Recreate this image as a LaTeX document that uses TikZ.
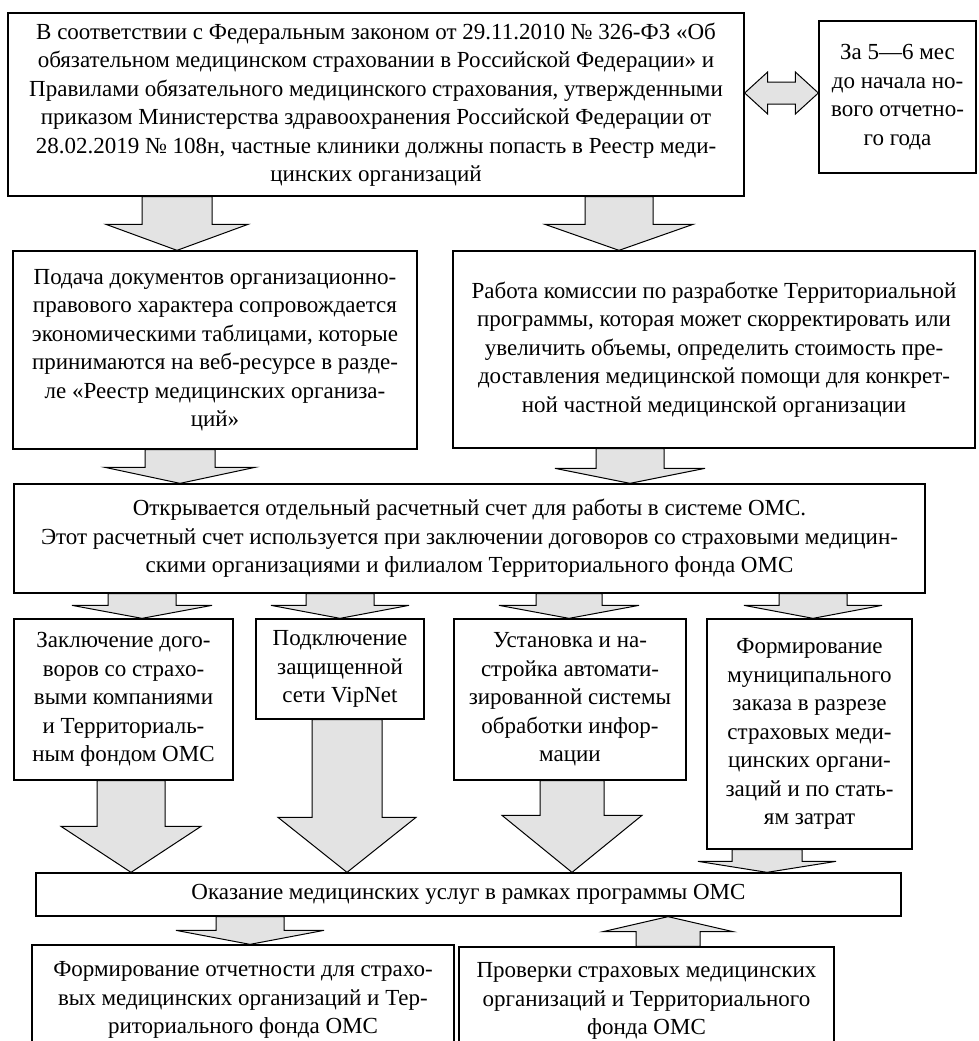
\documentclass[tikz,border=0pt]{standalone}
\usepackage{fontspec}
\setmainfont{Liberation Serif}
\usetikzlibrary{calc, backgrounds}
\tikzset{
	x=1pt, y=-1pt, % Coordenadas en puntos, el eje y hacia abajo
	caja/.style={draw, line width=1.3pt, align=center, inner sep=0pt,
		font=\fontsize{23}{28.5}\selectfont}, % Propiedades de los bloques
	flecha/.style={draw, line width=1pt, fill=gray!22, line join=miter} % Flechas gruesas grises
}
% Flecha hacia abajo: x, nodo de salida, nodo de llegada, semiancho del cuerpo, semiancho de la punta, largo de la punta
\newcommand{\flechaabajo}[6]{%
	\path[flecha] let \p1=(#1,0 |- #2.south), \p2=(#1,0 |- #3.north) in
		(\x1-#4,\y1) -- (\x1-#4,\y2+#6) -- (\x1-#5,\y2+#6) -- (\x2,\y2)
		-- (\x1+#5,\y2+#6) -- (\x1+#4,\y2+#6) -- (\x1+#4,\y1) -- cycle;}
% Flecha hacia arriba
\newcommand{\flechaarriba}[6]{%
	\path[flecha] let \p1=(#1,0 |- #2.north), \p2=(#1,0 |- #3.south) in
		(\x1-#4,\y1) -- (\x1-#4,\y2-#6) -- (\x1-#5,\y2-#6) -- (\x2,\y2)
		-- (\x1+#5,\y2-#6) -- (\x1+#4,\y2-#6) -- (\x1+#4,\y1) -- cycle;}
% Flecha doble horizontal: y, nodo izquierdo, nodo derecho, semialto del cuerpo, semialto de la punta, largo de la punta
\newcommand{\flechadoble}[6]{%
	\path[flecha] let \p1=(#2.east |- 0,#1), \p2=(#3.west |- 0,#1) in
		(\x1,\y1) -- (\x1+#6,\y1+#5) -- (\x1+#6,\y1+#4) -- (\x2-#6,\y1+#4)
		-- (\x2-#6,\y1+#5) -- (\x2,\y1) -- (\x2-#6,\y1-#5) -- (\x2-#6,\y1-#4)
		-- (\x1+#6,\y1-#4) -- (\x1+#6,\y1-#5) -- cycle;}

\begin{document}
\begin{tikzpicture}
			\useasboundingbox (0,0) rectangle (978,1041);
			\node[caja, minimum width=736pt, minimum height=183pt] (ley) at (376,104.5)
				{В соответствии с Федеральным законом от 29.11.2010 № 326-ФЗ «Об\\
				 обязательном медицинском страховании в Российской Федерации» и\\
				 Правилами обязательного медицинского страхования, утвержденными\\
				 приказом Министерства здравоохранения Российской Федерации от\\
				 28.02.2019 № 108н, частные клиники должны попасть в Реестр меди-\\
				 цинских организаций};
			\node[caja, minimum width=157pt, minimum height=152pt] (plazo) at (897.5,97)
				{За 5—6 мес\\ до начала но-\\ вого отчетно-\\ го года};
			\node[caja, minimum width=404pt, minimum height=198pt] (documentos) at (215,350)
				{Подача документов организационно-\\
				 правового характера сопровождается\\
				 экономическими таблицами, которые\\
				 принимаются на веб-ресурсе в разде-\\
				 ле «Реестр медицинских организа-\\
				 ций»};
			\node[caja, minimum width=522pt, minimum height=197pt] (comision) at (714,349.5)
				{Работа комиссии по разработке Территориальной\\
				 программы, которая может скорректировать или\\
				 увеличить объемы, определить стоимость пре-\\
				 доставления медицинской помощи для конкрет-\\
				 ной частной медицинской организации};
			\node[caja, minimum width=911pt, minimum height=109pt] (cuenta) at (469.5,538.5)
				{Открывается отдельный расчетный счет для работы в системе ОМС.\\
				 Этот расчетный счет используется при заключении договоров со страховыми медицин-\\
				 скими организациями и филиалом Территориального фонда ОМС};
			\node[caja, minimum width=219pt, minimum height=161pt] (contratos) at (123.5,699.5)
				{Заключение дого-\\ воров со страхо-\\ выми компаниями\\ и Территориаль-\\ ным фондом ОМС};
			\node[caja, minimum width=168pt, minimum height=100pt] (vipnet) at (340,669)
				{Подключение\\ защищенной\\ сети VipNet};
			\node[caja, minimum width=232pt, minimum height=161pt] (sistema) at (570,699.5)
				{Установка и на-\\ стройка автомати-\\ зированной системы\\ обработки инфор-\\ мации};
			\node[caja, minimum width=205pt, minimum height=230pt] (pedido) at (809.5,734)
				{Формирование\\ муниципального\\ заказа в разрезе\\ страховых меди-\\ цинских органи-\\ заций и по стать-\\ ям затрат};
			\node[caja, minimum width=865pt, minimum height=43pt] (servicios) at (468.5,894.5)
				{Оказание медицинских услуг в рамках программы ОМС};
			\node[caja, minimum width=422pt, minimum height=110pt] (informes) at (243,1000)
				{Формирование отчетности для страхо-\\ вых медицинских организаций и Тер-\\ риториального фонда ОМС};
			\node[caja, minimum width=375pt, minimum height=108pt] (controles) at (646.5,1001)
				{Проверки страховых медицинских\\ организаций и Территориального\\ фонда ОМС};
			\begin{scope}[on background layer]
				\flechadoble{93}{ley}{plazo}{11}{21}{23}
				\flechaabajo{177}{ley}{documentos}{35}{71}{26}
				\flechaabajo{619}{ley}{comision}{34}{74}{26}
				\flechaabajo{180}{documentos}{cuenta}{35}{75}{16}
				\flechaabajo{630}{comision}{cuenta}{34}{75}{15}
				\flechaabajo{142}{cuenta}{contratos}{34}{70}{13}
				\flechaabajo{340}{cuenta}{vipnet}{34}{69}{13}
				\flechaabajo{569}{cuenta}{sistema}{33}{70}{13}
				\flechaabajo{813}{cuenta}{pedido}{34}{69}{13}
				\flechaabajo{131}{contratos}{servicios}{34}{70}{46}
				\flechaabajo{347}{vipnet}{servicios}{35}{69}{55}
				\flechaabajo{572}{sistema}{servicios}{32}{70}{57}
				\flechaabajo{767}{pedido}{servicios}{35}{69}{11}
				\flechaabajo{250}{servicios}{informes}{34}{74}{14}
				\flechaarriba{668}{controles}{servicios}{32}{65}{15}
			\end{scope}
			\end{tikzpicture}
\end{document}
